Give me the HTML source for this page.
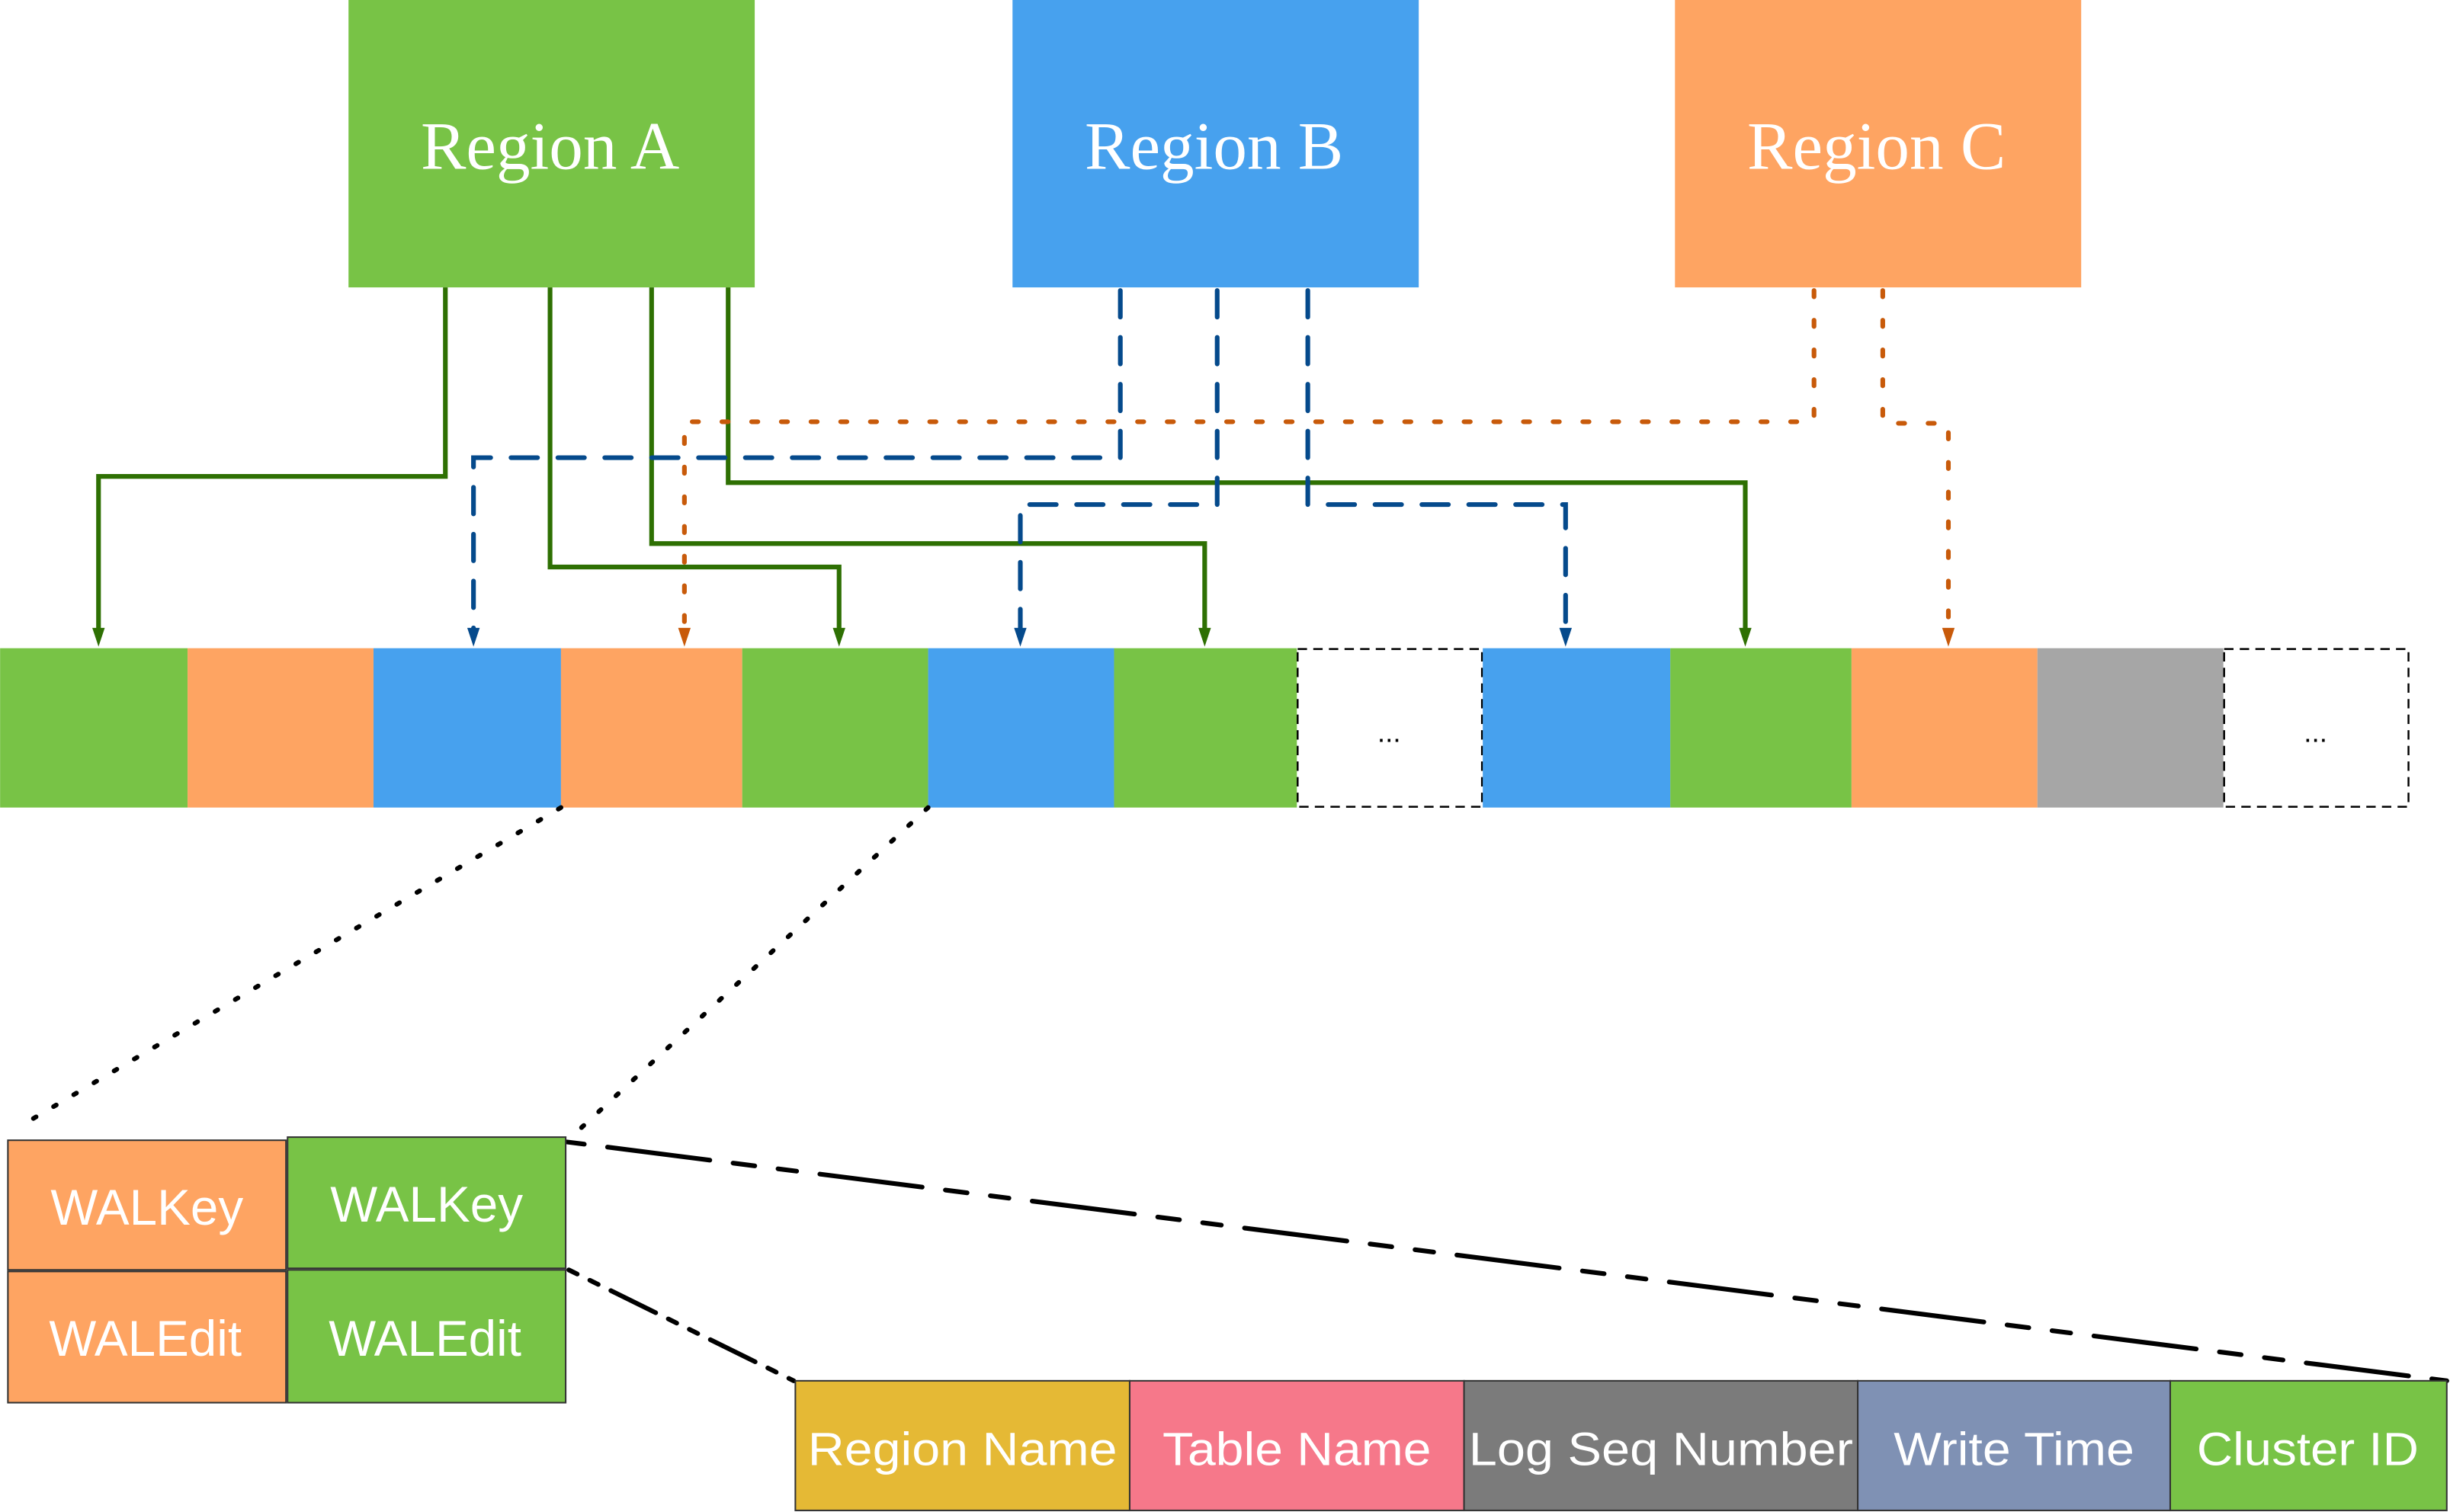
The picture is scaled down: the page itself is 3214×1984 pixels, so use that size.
<!DOCTYPE html>
<html><head><meta charset="utf-8"><style>html,body{margin:0;padding:0;background:#fff}svg{display:block}</style></head>
<body>
<svg width="3214" height="1984" viewBox="0 0 1568 968" xmlns="http://www.w3.org/2000/svg">
<!-- Regions -->
<rect x="223" y="0" width="260" height="184" fill="#78C346"/>
<rect x="648" y="0" width="260" height="184" fill="#47A1EE"/>
<rect x="1072" y="0" width="260" height="184" fill="#FEA462"/>
<g font-family="Liberation Serif, serif" font-size="43.5" fill="#fff" text-anchor="middle">
<text x="352" y="108">Region A</text>
<text x="777" y="108">Region B</text>
<text x="1201" y="108">Region C</text>
</g>
<!-- bar -->
<g>
<rect x="0" y="415" width="120" height="102" fill="#78C346"/>
<rect x="120" y="415" width="119" height="102" fill="#FEA462"/>
<rect x="239" y="415" width="120" height="102" fill="#47A1EE"/>
<rect x="359" y="415" width="116" height="102" fill="#FEA462"/>
<rect x="475" y="415" width="119" height="102" fill="#78C346"/>
<rect x="594" y="415" width="119" height="102" fill="#47A1EE"/>
<rect x="713" y="415" width="117" height="102" fill="#78C346"/>
<rect x="830.5" y="415.5" width="118" height="101" fill="#fff" stroke="#000" stroke-width="1.2" stroke-dasharray="6,4"/>
<rect x="949" y="415" width="120" height="102" fill="#47A1EE"/>
<rect x="1069" y="415" width="116" height="102" fill="#78C346"/>
<rect x="1185" y="415" width="119" height="102" fill="#FEA462"/>
<rect x="1304" y="415" width="119" height="102" fill="#A6A6A6"/>
<rect x="1423.5" y="415.5" width="118" height="101" fill="#fff" stroke="#000" stroke-width="1.2" stroke-dasharray="6,4"/>
<text x="889" y="475" font-family="Liberation Sans, sans-serif" font-size="18" text-anchor="middle">...</text>
<text x="1482" y="475" font-family="Liberation Sans, sans-serif" font-size="18" text-anchor="middle">...</text>
</g>
<!-- green lines -->
<g fill="none" stroke="#2E7003" stroke-width="3">
<polyline points="285,184 285,305 63,305 63,403"/>
<polyline points="352,184 352,363 537,363 537,403"/>
<polyline points="417,184 417,348 771,348 771,403"/>
<polyline points="466,184 466,309 1117,309 1117,403"/>
</g>
<g fill="#2E7003">
<path d="M59,402 L67,402 L63,414 z"/><path d="M533,402 L541,402 L537,414 z"/><path d="M767,402 L775,402 L771,414 z"/><path d="M1113,402 L1121,402 L1117,414 z"/>
</g>
<!-- blue dashed -->
<g fill="none" stroke="#054A8C" stroke-width="3" stroke-dasharray="17,13" stroke-linecap="round">
<polyline points="717,186 717,293 303,293 303,403"/>
<polyline points="779,186 779,323 653,323 653,403"/>
<polyline points="837,186 837,323 1002,323 1002,403"/>
</g>
<g fill="#054A8C">
<path d="M299,402 L307,402 L303,414 z"/><path d="M649,402 L657,402 L653,414 z"/><path d="M998,402 L1006,402 L1002,414 z"/>
</g>
<!-- orange dotted -->
<g fill="none" stroke="#C85A0A" stroke-width="3" stroke-dasharray="4,15" stroke-linecap="round">
<polyline points="1161,186 1161,270 438,270 438,403"/>
<polyline points="1205,186 1205,271 1247,271 1247,403"/>
</g>
<g fill="#C85A0A">
<path d="M434,402 L442,402 L438,414 z"/><path d="M1243,402 L1251,402 L1247,414 z"/>
</g>
<!-- zoom lines -->
<g fill="none" stroke="#000" stroke-width="3" stroke-linecap="round">
<line x1="359" y1="517" x2="18" y2="718" stroke-dasharray="2,13"/>
<line x1="594" y1="517" x2="372" y2="722" stroke-dasharray="2,13"/>
<line x1="362" y1="731" x2="1566" y2="884" stroke-dasharray="12,15,66,15,14,15"/>
<line x1="364" y1="813" x2="508" y2="884" stroke-dasharray="6,9,6,9,32,9"/>
</g>
<!-- WAL boxes -->
<g stroke="#333" stroke-width="1">
<rect x="5" y="730" width="178" height="83" fill="#FEA462"/>
<rect x="184" y="728" width="178" height="84" fill="#78C346"/>
<rect x="5" y="814" width="178" height="84" fill="#FEA462"/>
<rect x="184" y="813" width="178" height="85" fill="#78C346"/>
</g>
<g font-family="Liberation Sans, sans-serif" font-size="32" fill="#fff" text-anchor="middle">
<text x="94" y="784">WALKey</text>
<text x="273" y="782">WALKey</text>
<text x="93" y="868">WALEdit</text>
<text x="272" y="868">WALEdit</text>
</g>
<!-- bottom bar -->
<g stroke="#333" stroke-width="1">
<rect x="509" y="884" width="214" height="83" fill="#E5B935"/>
<rect x="723" y="884" width="214" height="83" fill="#F6788A"/>
<rect x="937" y="884" width="252" height="83" fill="#7B7B7B"/>
<rect x="1189" y="884" width="200" height="83" fill="#7F91B4"/>
<rect x="1389" y="884" width="177" height="83" fill="#78C346"/>
</g>
<g font-family="Liberation Sans, sans-serif" font-size="30" fill="#fff" text-anchor="middle">
<text x="616" y="938" textLength="198" lengthAdjust="spacingAndGlyphs">Region Name</text>
<text x="830" y="938" textLength="172" lengthAdjust="spacingAndGlyphs">Table Name</text>
<text x="1063" y="938" textLength="246" lengthAdjust="spacingAndGlyphs">Log Seq Number</text>
<text x="1289" y="938" textLength="154" lengthAdjust="spacingAndGlyphs">Write Time</text>
<text x="1477" y="938" textLength="142" lengthAdjust="spacingAndGlyphs">Cluster ID</text>
</g>
</svg>
</body></html>
